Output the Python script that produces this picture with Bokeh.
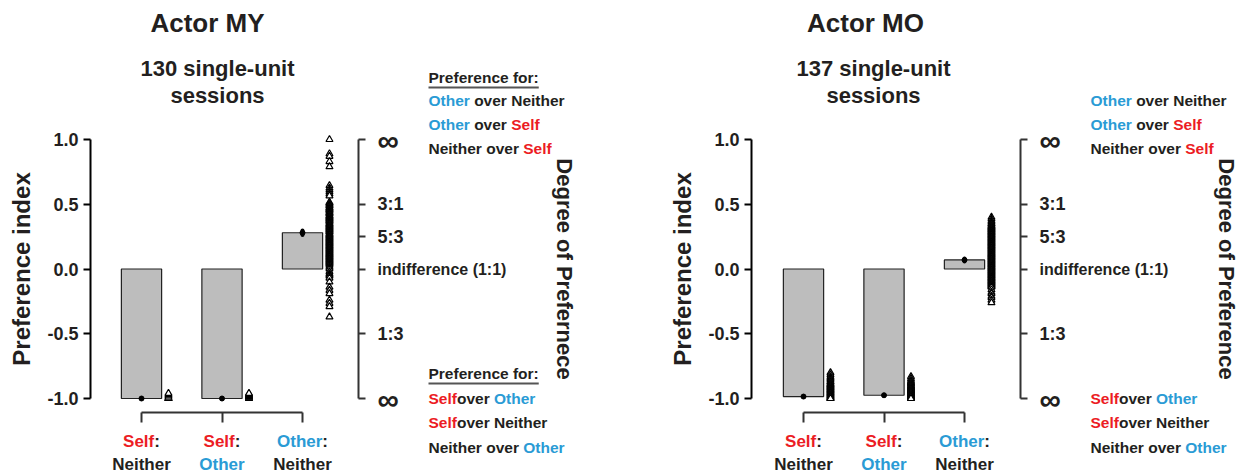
from bokeh.plotting import figure
from bokeh.models import Range1d, LinearAxis, FixedTicker, NumeralTickFormatter
from bokeh.layouts import row
from bokeh.embed import file_html
from bokeh.resources import INLINE
from bokeh.core.properties import value

# ---------------------------------------------------------------- data
cond_x = [1, 2, 3]                      # Self:Neither, Self:Other, Other:Neither

# Actor MY -- 130 single-unit sessions
my_means = [-1.0, -1.0, 0.28]
my_sem = [0.004, 0.004, 0.018]
my_self_neither = [-1.0, -1.0, -1.0, -1.0, -0.99, -0.98, -0.97, -0.96]
my_self_other = [-1.0, -1.0, -1.0, -0.995, -0.99, -0.99, -0.985, -0.98, -0.98,
                 -0.975, -0.97, -0.97, -0.965, -0.96]
my_other_neither = [1.0, 0.89, 0.87, 0.83, 0.79, 0.645, 0.625, 0.61, 0.595, 0.58,
                    0.565, 0.515, 0.51, 0.505, 0.495, 0.49, 0.485, 0.475, 0.47, 0.465,
                    0.46, 0.455, 0.45, 0.44, 0.435, 0.43, 0.425, 0.415, 0.41, 0.405,
                    0.40, 0.395, 0.39, 0.385, 0.38, 0.375, 0.37, 0.365, 0.355, 0.35,
                    0.345, 0.34, 0.335, 0.33, 0.325, 0.32, 0.315, 0.31, 0.305, 0.30,
                    0.295, 0.29, 0.285, 0.275, 0.27, 0.265, 0.26, 0.255, 0.25, 0.245,
                    0.24, 0.235, 0.23, 0.225, 0.22, 0.215, 0.21, 0.205, 0.20, 0.195,
                    0.19, 0.185, 0.18, 0.175, 0.17, 0.165, 0.16, 0.155, 0.15, 0.145,
                    0.14, 0.135, 0.13, 0.125, 0.12, 0.115, 0.11, 0.105, 0.10, 0.095,
                    0.09, 0.085, 0.08, 0.075, 0.07, 0.065, 0.06, 0.055, 0.05, 0.045,
                    0.04, 0.03, 0.02, 0.01, 0.0, -0.02, -0.035, -0.045, -0.055, -0.07,
                    -0.10, -0.14, -0.165, -0.19, -0.24, -0.265, -0.29, -0.37]

# Actor MO -- 137 single-unit sessions
mo_means = [-0.985, -0.975, 0.07]
mo_sem = [0.004, 0.004, 0.012]
mo_self_neither = [-0.80, -0.815, -0.83, -0.84, -0.85, -0.86, -0.87, -0.875, -0.885,
                   -0.89, -0.895, -0.90, -0.905, -0.91, -0.915, -0.92, -0.925, -0.93,
                   -0.935, -0.94, -0.945, -0.95, -0.955, -0.96, -0.965, -0.97, -0.975,
                   -0.98, -0.985, -0.99, -0.995, -1.0, -1.0, -1.0]
mo_self_other = [-0.83, -0.845, -0.86, -0.87, -0.88, -0.885, -0.89, -0.90, -0.905,
                 -0.91, -0.915, -0.92, -0.925, -0.93, -0.935, -0.94, -0.945, -0.95,
                 -0.955, -0.96, -0.965, -0.97, -0.975, -0.98, -0.985, -0.99, -0.995,
                 -1.0, -1.0, -1.0]
mo_other_neither = [0.40, 0.385, 0.37, 0.36, 0.35, 0.345, 0.335, 0.33, 0.325, 0.32,
                    0.315, 0.31, 0.305, 0.30, 0.295, 0.29, 0.285, 0.28, 0.275, 0.27,
                    0.265, 0.26, 0.255, 0.25, 0.245, 0.24, 0.235, 0.23, 0.225, 0.22,
                    0.215, 0.21, 0.205, 0.20, 0.195, 0.19, 0.185, 0.18, 0.175, 0.17,
                    0.165, 0.16, 0.155, 0.15, 0.145, 0.14, 0.135, 0.13, 0.125, 0.12,
                    0.115, 0.11, 0.105, 0.10, 0.095, 0.09, 0.085, 0.08, 0.075, 0.07,
                    0.065, 0.06, 0.055, 0.05, 0.045, 0.04, 0.035, 0.03, 0.025, 0.02,
                    0.015, 0.01, 0.005, 0.0, -0.005, -0.01, -0.015, -0.02, -0.025,
                    -0.03, -0.035, -0.04, -0.045, -0.05, -0.055, -0.06, -0.065, -0.07,
                    -0.075, -0.08, -0.085, -0.09, -0.095, -0.10, -0.105, -0.11, -0.115,
                    -0.12, -0.125, -0.13, -0.135, -0.14, -0.16, -0.18, -0.19, -0.21,
                    -0.22, -0.24, -0.26]

# left-hand scale ticks and the right-hand "degree of preference" scale
index_ticks = [-1.0, -0.5, 0.0, 0.5, 1.0]
ratio_ticks = [-1.0, -0.5, 0.0, 0.25, 0.5, 1.0]
ratio_labels = {0.5: "3:1", 0.25: "5:3", -0.5: "1:3"}

# ---------------------------------------------------------------- style
FONT = "Liberation Sans"
RED = "#ec1c24"
BLUE = "#2a9bd5"
DARK = "#231f20"
BAR_FILL = "#bdbdbd"

# advance widths of Liberation Sans Bold (1/1000 em), used to butt coloured
# words against each other on a single line
ADV = {' ': 278, ':': 333, 'N': 722, 'O': 778, 'S': 667, 'P': 667, 'a': 556,
       'c': 556, 'd': 611, 'e': 556, 'f': 333, 'h': 611, 'i': 278, 'l': 278,
       'n': 611, 'o': 611, 'r': 389, 's': 556, 't': 333, 'v': 556}


def text_width(s, size):
    return sum(ADV[c] for c in s) * size / 1000.0


PX_PER_X = 80.5     # pixels between neighbouring bars
PX_PER_Y = 129.5    # pixels per preference-index unit
ZERO_PY = 268.5     # canvas row of index 0
W, H = 620, 476


def make_panel(title, subtitle, means, sem, sessions, bar1_px, axis_px,
               title_px, sub_px, right_label, header):
    def X(px):
        return 1 + (px - bar1_px) / PX_PER_X

    def Y(py):
        return (ZERO_PY - py) / PX_PER_Y

    p = figure(width=W, height=H, x_range=Range1d(X(0), X(W)), y_range=Range1d(Y(H), Y(0)),
               x_axis_type=None, y_axis_type=None, output_backend="svg",
               toolbar_location=None, min_border=0, outline_line_color=None,
               background_fill_color="white", border_fill_color="white")

    # preference-index axis
    left = LinearAxis(fixed_location=X(axis_px), bounds=(-1, 1),
                      ticker=FixedTicker(ticks=index_ticks),
                      formatter=NumeralTickFormatter(format="0.0"),
                      axis_label="Preference index")
    left.axis_line_width = 2
    left.axis_line_color = "black"
    left.major_tick_line_width = 2
    left.major_tick_out = 7
    left.major_tick_in = 0
    left.minor_tick_out = 0
    left.minor_tick_in = 0
    left.major_label_standoff = 5
    left.major_label_text_font = FONT
    left.major_label_text_font_style = "bold"
    left.major_label_text_font_size = "18px"
    left.major_label_text_color = DARK
    left.axis_label_text_font = FONT
    left.axis_label_text_font_style = "bold"
    left.axis_label_text_font_size = "24px"
    left.axis_label_text_color = DARK
    left.axis_label_standoff = 9
    p.add_layout(left, "left")

    # degree-of-preference axis
    right_px = bar1_px + 217
    right = LinearAxis(fixed_location=X(right_px), bounds=(-1, 1),
                       ticker=FixedTicker(ticks=ratio_ticks),
                       major_label_overrides={t: ratio_labels.get(t, "") for t in ratio_ticks},
                       axis_label=right_label)
    right.axis_line_width = 2
    right.axis_line_color = "#333333"
    right.major_tick_line_width = 2
    right.major_tick_line_color = "#333333"
    right.major_tick_out = 7
    right.major_tick_in = 0
    right.minor_tick_out = 0
    right.minor_tick_in = 0
    right.major_label_standoff = 12
    right.major_label_text_font = FONT
    right.major_label_text_font_style = "bold"
    right.major_label_text_font_size = "18px"
    right.major_label_text_color = DARK
    right.axis_label_text_font = FONT
    right.axis_label_text_font_style = "bold"
    right.axis_label_text_font_size = "22px"
    right.axis_label_text_color = DARK
    right.axis_label_standoff = 145
    p.add_layout(right, "right")

    # bracket joining the three conditions
    bottom = LinearAxis(fixed_location=Y(412), bounds=(1, 3),
                        ticker=FixedTicker(ticks=cond_x),
                        major_label_overrides={c: "" for c in cond_x})
    bottom.axis_line_width = 2
    bottom.axis_line_color = "#333333"
    bottom.major_tick_line_width = 2
    bottom.major_tick_line_color = "#333333"
    bottom.major_tick_out = 10
    bottom.major_tick_in = 0
    bottom.minor_tick_out = 0
    bottom.minor_tick_in = 0
    p.add_layout(bottom, "below")

    # bars of mean preference
    p.vbar(x=cond_x, top=means, bottom=0, width=0.5, fill_color=BAR_FILL,
           line_color="#222222", line_width=1.2)

    # mean +/- s.e.m.
    p.segment(x0=cond_x, y0=[m - s for m, s in zip(means, sem)],
              x1=cond_x, y1=[m + s for m, s in zip(means, sem)],
              line_color="black", line_width=4, line_cap="round")
    p.scatter(x=cond_x, y=means, size=5, color="black")

    # individual sessions, beside each bar
    for cx, vals in zip(cond_x, sessions):
        p.scatter(x=[cx + 0.335] * len(vals), y=vals, marker="triangle", size=7,
                  fill_color="white", line_color="black", line_width=1.2)

    def put(px, py, segments, size, align="left", style="bold"):
        total = sum(text_width(s, size) for s, _ in segments)
        start = px - total / 2 if align == "center" else px
        dx = 0.0
        for s, col in segments:
            lead = len(s) - len(s.lstrip(" "))
            p.text(x=[X(start)], y=[Y(py)], text=[s.strip()],
                   x_offset=dx + text_width(" " * lead, size),
                   text_color=col, text_font=value(FONT), text_font_style=style,
                   text_font_size=f"{size}px", text_baseline="middle", text_align="left")
            dx += text_width(s, size)

    def put_plain(px, py, s, size, style="bold", align="center", color=DARK):
        p.text(x=[X(px)], y=[Y(py)], text=[s], text_color=color,
               text_font=value(FONT), text_font_style=style,
               text_font_size=f"{size}px", text_baseline="middle", text_align=align)

    # titles
    put_plain(title_px, 22, title, 26)
    put_plain(sub_px, 68, subtitle[0], 22)
    put_plain(sub_px, 95, subtitle[1], 22)

    # labels of the right-hand scale
    lab_px = right_px + 19
    put_plain(lab_px, 140, "\u221e", 30, align="left")
    put_plain(lab_px, 399, "\u221e", 30, align="left")
    put_plain(lab_px, 269, "indifference (1:1)", 16, align="left")

    # condition labels under the bracket
    cond_lines = [
        ([("Self", RED), (":", DARK)], [("Neither", DARK)]),
        ([("Self", RED), (":", DARK)], [("Other", BLUE)]),
        ([("Other", BLUE), (":", DARK)], [("Neither", DARK)]),
    ]
    for cx, (l1, l2) in zip(cond_x, cond_lines):
        cpx = bar1_px + (cx - 1) * PX_PER_X
        put(cpx, 441, l1, 17, align="center")
        put(cpx, 464, l2, 17, align="center")

    # key to the two ends of the scale
    key_px = bar1_px + 287
    ks = 15.5
    top_lines = [
        [("Other", BLUE), (" over Neither", DARK)],
        [("Other", BLUE), (" over ", DARK), ("Self", RED)],
        [("Neither over ", DARK), ("Self", RED)],
    ]
    bottom_lines = [
        [("Self", RED), ("over ", DARK), ("Other", BLUE)],
        [("Self", RED), ("over Neither", DARK)],
        [("Neither over ", DARK), ("Other", BLUE)],
    ]
    for py, seg in zip([100, 124, 148], top_lines):
        put(key_px, py, seg, ks)
    for py, seg in zip([398, 422, 447], bottom_lines):
        put(key_px, py, seg, ks)
    if header:
        hw = text_width("Preference for:", ks)
        for py in (77, 373):
            put(key_px, py, [("Preference for:", DARK)], ks)
            p.segment(x0=[X(key_px)], y0=[Y(py + 10)], x1=[X(key_px + hw)], y1=[Y(py + 10)],
                      line_color="#555555", line_width=2)
    return p


p_my = make_panel("Actor MY", ["130 single-unit", "sessions"], my_means, my_sem,
                  [my_self_neither, my_self_other, my_other_neither],
                  bar1_px=141, axis_px=90, title_px=207, sub_px=217,
                  right_label="Degree of Prefernece", header=True)
p_mo = make_panel("Actor MO", ["137 single-unit", "sessions"], mo_means, mo_sem,
                  [mo_self_neither, mo_self_other, mo_other_neither],
                  bar1_px=183, axis_px=131, title_px=245, sub_px=253,
                  right_label="Degree of Preference", header=False)

layout = row(p_my, p_mo)
open("out.html", "w").write(file_html(layout, INLINE))
